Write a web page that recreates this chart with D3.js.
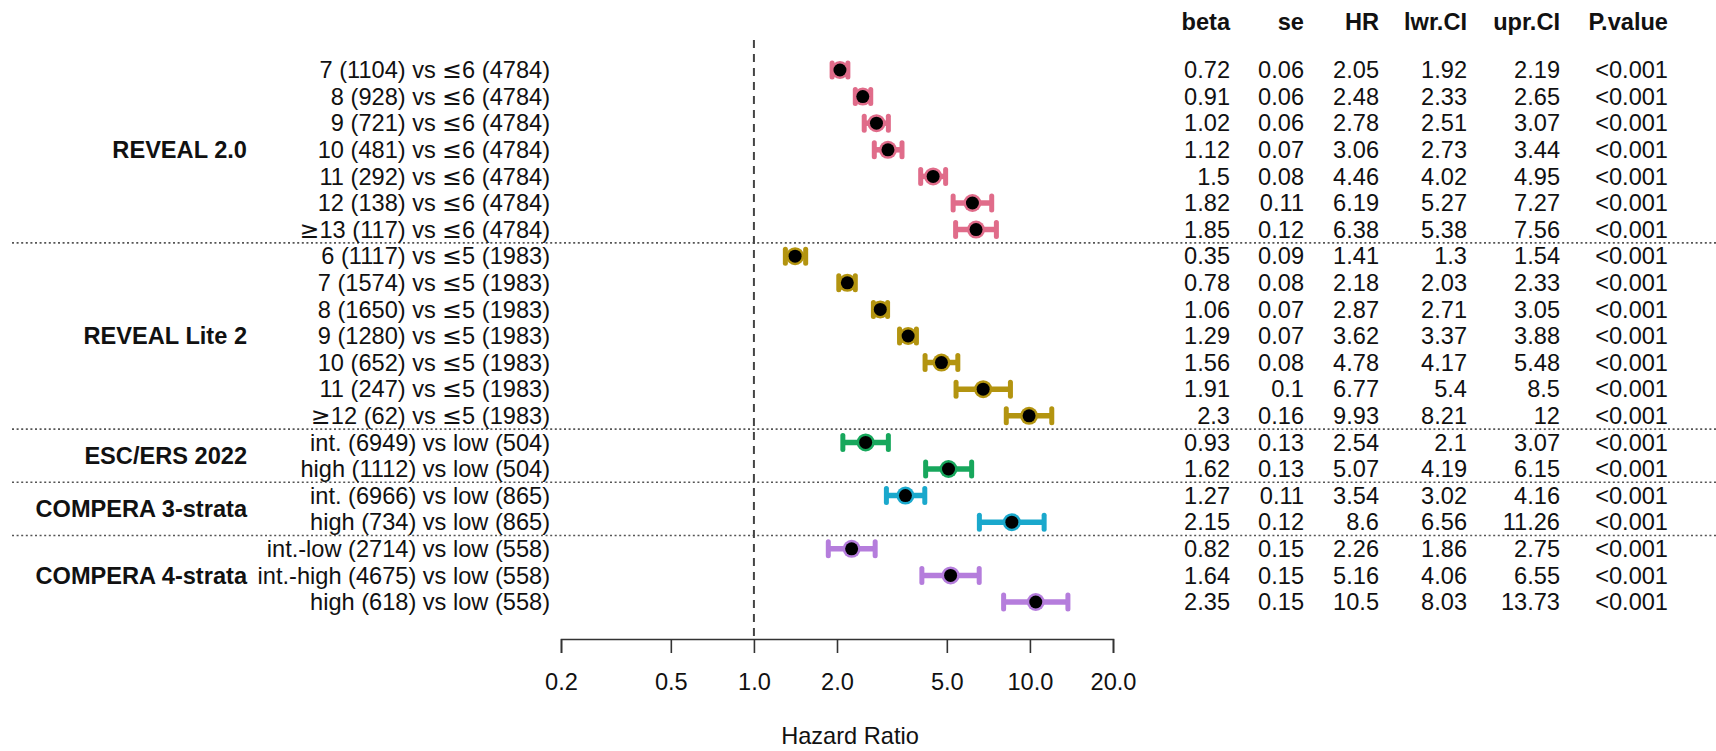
<!DOCTYPE html>
<html lang="en">
<head>
    <meta charset="UTF-8">
    <title>Hazard ratio forest plot</title>
    <style>
        body { margin: 0; background: #fff; }
        text { font-family: "Liberation Sans", Arial, Helvetica, sans-serif; fill: #111; }
        tspan.sym { font-family: "DejaVu Sans", sans-serif; }
    </style>
</head>
<body>
<script src="https://cdn.jsdelivr.net/npm/d3@7"></script>
<script>
    // rows, top to bottom
    var rowLabels = [
        '7 (1104) vs \u22646 (4784)', '8 (928) vs \u22646 (4784)', '9 (721) vs \u22646 (4784)',
        '10 (481) vs \u22646 (4784)', '11 (292) vs \u22646 (4784)', '12 (138) vs \u22646 (4784)',
        '\u226513 (117) vs \u22646 (4784)',
        '6 (1117) vs \u22645 (1983)', '7 (1574) vs \u22645 (1983)', '8 (1650) vs \u22645 (1983)',
        '9 (1280) vs \u22645 (1983)', '10 (652) vs \u22645 (1983)', '11 (247) vs \u22645 (1983)',
        '\u226512 (62) vs \u22645 (1983)',
        'int. (6949) vs low (504)', 'high (1112) vs low (504)',
        'int. (6966) vs low (865)', 'high (734) vs low (865)',
        'int.-low (2714) vs low (558)', 'int.-high (4675) vs low (558)', 'high (618) vs low (558)'
    ];
    var groups = ['REVEAL 2.0', 'REVEAL Lite 2', 'ESC/ERS 2022', 'COMPERA 3-strata', 'COMPERA 4-strata'];
    var groupSizes = [7, 7, 2, 2, 3];
    var groupColors = ['#e06c8a', '#b39410', '#17a75c', '#1aa8cc', '#b57ddc'];

    var beta = [0.72, 0.91, 1.02, 1.12, 1.5, 1.82, 1.85, 0.35, 0.78, 1.06, 1.29, 1.56, 1.91, 2.3, 0.93, 1.62, 1.27, 2.15, 0.82, 1.64, 2.35];
    var se   = [0.06, 0.06, 0.06, 0.07, 0.08, 0.11, 0.12, 0.09, 0.08, 0.07, 0.07, 0.08, 0.1, 0.16, 0.13, 0.13, 0.11, 0.12, 0.15, 0.15, 0.15];
    var hr   = [2.05, 2.48, 2.78, 3.06, 4.46, 6.19, 6.38, 1.41, 2.18, 2.87, 3.62, 4.78, 6.77, 9.93, 2.54, 5.07, 3.54, 8.6, 2.26, 5.16, 10.5];
    var lwr  = [1.92, 2.33, 2.51, 2.73, 4.02, 5.27, 5.38, 1.3, 2.03, 2.71, 3.37, 4.17, 5.4, 8.21, 2.1, 4.19, 3.02, 6.56, 1.86, 4.06, 8.03];
    var upr  = [2.19, 2.65, 3.07, 3.44, 4.95, 7.27, 7.56, 1.54, 2.33, 3.05, 3.88, 5.48, 8.5, 12, 3.07, 6.15, 4.16, 11.26, 2.75, 6.55, 13.73];
    var pval = ['<0.001', '<0.001', '<0.001', '<0.001', '<0.001', '<0.001', '<0.001', '<0.001', '<0.001', '<0.001', '<0.001',
                '<0.001', '<0.001', '<0.001', '<0.001', '<0.001', '<0.001', '<0.001', '<0.001', '<0.001', '<0.001'];

    var tableHeads = ['beta', 'se', 'HR', 'lwr.CI', 'upr.CI', 'P.value'];
    var tableCols = [beta, se, hr, lwr, upr, pval];
    var tickValues = [0.2, 0.5, 1, 2, 5, 10, 20];

    var W = 1716, H = 751;
    var fontSize = 23.6;

    // group index for each row
    var rowGroup = [];
    groupSizes.forEach(function (n, g) {
        for (var k = 0; k < n; k++) rowGroup.push(g);
    });

    var rows = rowLabels.map(function (lab, i) {
        return {label: lab, g: rowGroup[i], hr: hr[i], lwr: lwr[i], upr: upr[i]};
    });

    var svg = d3.select('body')
        .append('svg')
        .attr('width', W)
        .attr('height', H);

    var x = d3.scaleLog().domain([0.2, 20]).range([561, 1113]);
    var y = d3.scaleLinear().domain([0, rows.length - 1]).range([70, 602]);

    // dotted separators between groups
    var cum = d3.cumsum(groupSizes);
    svg.selectAll('line.sep')
        .data(cum.slice(0, -1))
        .enter()
        .append('line')
        .attr('class', 'sep')
        .attr('x1', 12).attr('x2', W)
        .attr('y1', function (d) { return y(d - 0.5); })
        .attr('y2', function (d) { return y(d - 0.5); })
        .attr('stroke', '#555')
        .attr('stroke-width', 1.6)
        .attr('stroke-dasharray', '2,2.6');

    // reference line at HR = 1
    svg.append('line')
        .attr('x1', x(1)).attr('x2', x(1))
        .attr('y1', 40).attr('y2', 639)
        .attr('stroke', '#444')
        .attr('stroke-width', 2)
        .attr('stroke-dasharray', '8,6');

    // axis
    var axis = d3.axisBottom(x)
        .tickValues(tickValues)
        .tickSize(14)
        .tickPadding(20)
        .tickFormat(d3.format('.1f'));

    var gAxis = svg.append('g')
        .attr('transform', 'translate(0,639)')
        .call(axis);
    gAxis.select('.domain').attr('stroke', '#333').attr('stroke-width', 1.6);
    gAxis.selectAll('.tick line').attr('stroke', '#333').attr('stroke-width', 1.6);
    gAxis.selectAll('.tick text')
        .attr('fill', '#111')
        .style('font-family', '"Liberation Sans", Arial, sans-serif')
        .style('font-size', fontSize + 'px');

    svg.append('text')
        .attr('x', 850)
        .attr('y', 744)
        .attr('text-anchor', 'middle')
        .style('font-size', fontSize + 'px')
        .text('Hazard Ratio');

    // group labels
    var start = 0;
    groups.forEach(function (name, g) {
        var mid = start + (groupSizes[g] - 1) / 2;
        svg.append('text')
            .attr('x', 247)
            .attr('y', y(mid))
            .attr('dy', '0.35em')
            .attr('text-anchor', 'end')
            .style('font-size', fontSize + 'px')
            .style('font-weight', 'bold')
            .text(name);
        start += groupSizes[g];
    });

    // row labels (the <= / >= signs are set in a wider face)
    var rowText = svg.selectAll('text.row')
        .data(rows)
        .enter()
        .append('text')
        .attr('class', 'row')
        .attr('x', 550)
        .attr('y', function (d, i) { return y(i); })
        .attr('dy', '0.35em')
        .attr('text-anchor', 'end')
        .style('font-size', fontSize + 'px');

    rowText.each(function (d) {
        var t = d3.select(this);
        d.label.split(/([\u2264\u2265])/).forEach(function (part) {
            if (!part) return;
            t.append('tspan')
                .attr('class', /[\u2264\u2265]/.test(part) ? 'sym' : null)
                .text(part);
        });
    });

    // confidence intervals
    var pts = svg.selectAll('g.pt')
        .data(rows)
        .enter()
        .append('g')
        .attr('class', 'pt')
        .attr('transform', function (d, i) { return 'translate(0,' + y(i) + ')'; });

    pts.append('line')
        .attr('x1', function (d) { return x(d.lwr); })
        .attr('x2', function (d) { return x(d.upr); })
        .attr('stroke', function (d) { return groupColors[d.g]; })
        .attr('stroke-width', 5.5);

    ['lwr', 'upr'].forEach(function (k) {
        pts.append('line')
            .attr('x1', function (d) { return x(d[k]); })
            .attr('x2', function (d) { return x(d[k]); })
            .attr('y1', -7).attr('y2', 7)
            .attr('stroke', function (d) { return groupColors[d.g]; })
            .attr('stroke-width', 5)
            .attr('stroke-linecap', 'round');
    });

    pts.append('circle')
        .attr('cx', function (d) { return x(d.hr); })
        .attr('r', 9)
        .attr('fill', function (d) { return groupColors[d.g]; });

    pts.append('circle')
        .attr('cx', function (d) { return x(d.hr); })
        .attr('r', 6.5)
        .attr('fill', '#000');

    // table on the right
    var colRight = [1230, 1304, 1379, 1467, 1560, 1668];

    svg.selectAll('text.head')
        .data(tableHeads)
        .enter()
        .append('text')
        .attr('class', 'head')
        .attr('x', function (d, j) { return colRight[j]; })
        .attr('y', 30)
        .attr('text-anchor', 'end')
        .style('font-size', fontSize + 'px')
        .style('font-weight', 'bold')
        .text(function (d) { return d; });

    tableCols.forEach(function (col, j) {
        svg.selectAll('text.c' + j)
            .data(col)
            .enter()
            .append('text')
            .attr('class', 'c' + j)
            .attr('x', colRight[j])
            .attr('y', function (d, i) { return y(i); })
            .attr('dy', '0.35em')
            .attr('text-anchor', 'end')
            .style('font-size', fontSize + 'px')
            .text(function (d) { return String(d); });
    });
</script>
</body>
</html>
